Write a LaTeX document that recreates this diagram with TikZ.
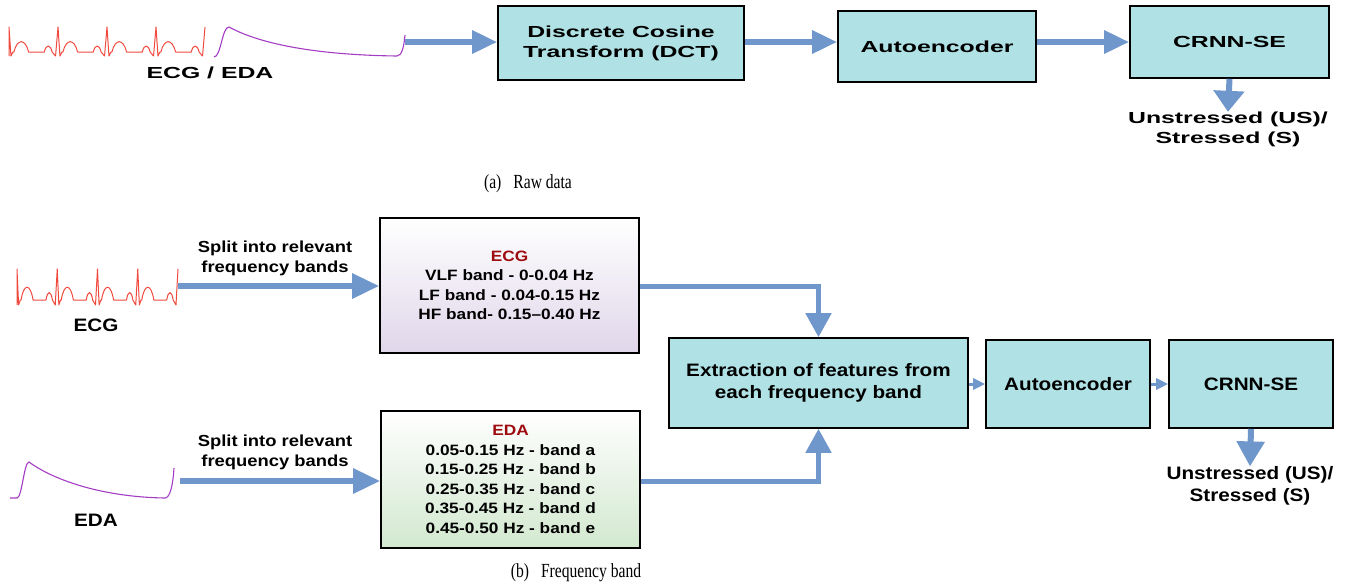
\documentclass[tikz,border=0pt]{standalone}
\usepackage{fontspec}
\setmainfont{Liberation Serif}
\newfontfamily\fa[FakeStretch=1.55]{Liberation Sans}
\newfontfamily\fb[FakeStretch=1.15]{Liberation Sans}
\newfontfamily\fcap[FakeStretch=0.78]{Liberation Serif}
\usetikzlibrary{arrows.meta}
\definecolor{boxfill}{HTML}{B0E2E5}
\definecolor{arrowblue}{HTML}{7097CB}
\definecolor{ecgred}{HTML}{F04A3E}
\definecolor{edapurple}{HTML}{A43CC4}
\definecolor{hdred}{HTML}{9E0B0F}
\definecolor{lav}{HTML}{E0D6EA}
\definecolor{mint}{HTML}{D2E8CF}
\tikzset{
  blk/.style={draw=black, line width=1.6pt, fill=boxfill, align=center, inner sep=0pt},
  gradbox/.style={draw=black, line width=1.6pt, align=center, inner sep=0pt, top color=white},
  afont/.style={font=\fa\bfseries\fontsize{16}{20}\selectfont},
  bfont/.style={font=\fb\bfseries\fontsize{18}{22}\selectfont},
  sfont/.style={font=\fb\bfseries\fontsize{16}{19.5}\selectfont},
  cfont/.style={font=\fb\bfseries\fontsize{15}{19.5}\selectfont},
  lbl/.style={inner sep=0pt, align=center},
  fatA/.style={draw=arrowblue, line width=6pt, -{Triangle[width=22pt,length=25pt]}},
  fatB/.style={draw=arrowblue, line width=6pt, -{Triangle[width=24pt,length=27pt]}},
  joinarr/.style={draw=arrowblue, line width=5pt, line join=miter, -{Triangle[width=25pt,length=24pt]}},
  downA/.style={draw=arrowblue, line width=6pt, -{Triangle[width=30pt,length=21pt]}},
  downB/.style={draw=arrowblue, line width=6pt, -{Triangle[width=27pt,length=25pt]}},
  thinarr/.style={draw=arrowblue, line width=3pt, -{Triangle[width=11pt,length=12pt]}},
  ecgline/.style={draw=ecgred, line width=1pt, line join=round},
  edaline/.style={draw=edapurple, line width=1.1pt},
  captxt/.style={inner sep=0pt, font=\fcap\fontsize{20}{22}\selectfont}
}
\begin{document}
\begin{tikzpicture}[x=1pt,y=-1pt]
\useasboundingbox (0,0) rectangle (1353,587);

% ---------------- (a) Raw data ----------------
\begin{scope}[shift={(9,52)}, x=49pt, y=25pt]
\draw[ecgline] (0,-0.16) -- (0,1)
  \foreach \k in {0,...,3}{ -- (\k+0.04,-0.16) -- (\k+0.08,0) -- (\k+0.1,0)
   .. controls (\k+0.17,0.55) and (\k+0.33,0.55) .. (\k+0.4,0) -- (\k+0.72,0)
   .. controls (\k+0.76,0.32) and (\k+0.84,0.32) .. (\k+0.88,0) -- (\k+0.95,-0.16) -- (\k+1,1)};
\end{scope}
\draw[edaline] (214,57) .. controls (221,57) and (222,27) .. (229,27)
  .. controls (262,45) and (320,55) .. (397,56) .. controls (402,56) and (404,46) .. (405,35);
\coordinate (sigA) at (405,42);
\node[lbl, afont] (lblA) at (210,73) {ECG / EDA};

\node[blk, afont, minimum width=246pt, minimum height=74pt] (dct) at (621,43) {Discrete Cosine\\Transform (DCT)};
\node[blk, afont, minimum width=198pt, minimum height=71pt] (aeA) at (937,46.5) {Autoencoder};
\node[blk, afont, minimum width=199pt, minimum height=72pt] (crA) at (1229.5,42) {CRNN-SE};
\node[lbl, afont] (outA) at (1228,129.5) {Unstressed (US)/\\Stressed (S)};

\draw[fatA] (sigA) -- (sigA -| dct.west);
\draw[fatA] (dct.east |- sigA) -- (sigA -| aeA.west);
\draw[fatA] (aeA.east |- sigA) -- (sigA -| crA.west);
\draw[downA] (crA.south) -- (outA.north);

\node[captxt] (capA) at (528,184) {(a)\hspace{0.6em}Raw data};

% ---------------- (b) Frequency band ----------------
\begin{scope}[shift={(17,300)}, x=40.25pt, y=31pt]
\draw[ecgline] (0,-0.16) -- (0,1)
  \foreach \k in {0,...,3}{ -- (\k+0.04,-0.16) -- (\k+0.08,0) -- (\k+0.1,0)
   .. controls (\k+0.17,0.55) and (\k+0.33,0.55) .. (\k+0.4,0) -- (\k+0.72,0)
   .. controls (\k+0.76,0.32) and (\k+0.84,0.32) .. (\k+0.88,0) -- (\k+0.95,-0.16) -- (\k+1,1)};
\end{scope}
\coordinate (sigE) at (178,286);
\node[lbl, bfont] (lblE) at (96,325) {ECG};

\draw[edaline] (10,498) -- (17,498) .. controls (22,498) and (24,462) .. (29,462)
  .. controls (52,479) and (100,497) .. (165,498) .. controls (170,498) and (173,485) .. (174,468);
\coordinate (sigD) at (180,481);
\node[lbl, bfont] (lblD) at (96,520) {EDA};

\node[lbl, sfont] (splitE) at (275,258.5) {Split into relevant\\frequency bands};
\node[lbl, sfont] (splitD) at (275,452.5) {Split into relevant\\frequency bands};

\node[gradbox, bottom color=lav, cfont, minimum width=259pt, minimum height=135pt] (ecgbox) at (509.5,285.5)
  {\textcolor{hdred}{ECG}\\VLF band - 0-0.04 Hz\\LF band - 0.04-0.15 Hz\\HF band- 0.15–0.40 Hz};
\node[gradbox, bottom color=mint, cfont, minimum width=259pt, minimum height=137pt] (edabox) at (510.5,479.5)
  {\textcolor{hdred}{EDA}\\0.05-0.15 Hz - band a\\0.15-0.25 Hz - band b\\0.25-0.35 Hz - band c\\0.35-0.45 Hz - band d\\0.45-0.50 Hz - band e};

\node[blk, bfont, minimum width=299pt, minimum height=90pt] (ext) at (818.5,383) {Extraction of features from\\each frequency band};
\node[blk, bfont, minimum width=164pt, minimum height=88pt] (aeB) at (1068,384) {Autoencoder};
\node[blk, bfont, minimum width=164pt, minimum height=88pt] (crB) at (1251,384) {CRNN-SE};
\node[lbl, bfont] (outB) at (1250,486) {Unstressed (US)/\\Stressed (S)};

\draw[fatB] (sigE) -- (sigE -| ecgbox.west);
\draw[fatB] (sigD) -- (sigD -| edabox.west);
\draw[joinarr] (ecgbox.east |- sigE) -| (ext.north);
\draw[joinarr] (edabox.east |- sigD) -| (ext.south);
\draw[thinarr] (ext.east |- aeB.west) -- (aeB.west);
\draw[thinarr] (aeB.east) -- (crB.west);
\draw[downB] (crB.south) -- (outB.north);

\node[captxt] (capB) at (576,573) {(b)\hspace{0.6em}Frequency band};
\end{tikzpicture}
\end{document}
